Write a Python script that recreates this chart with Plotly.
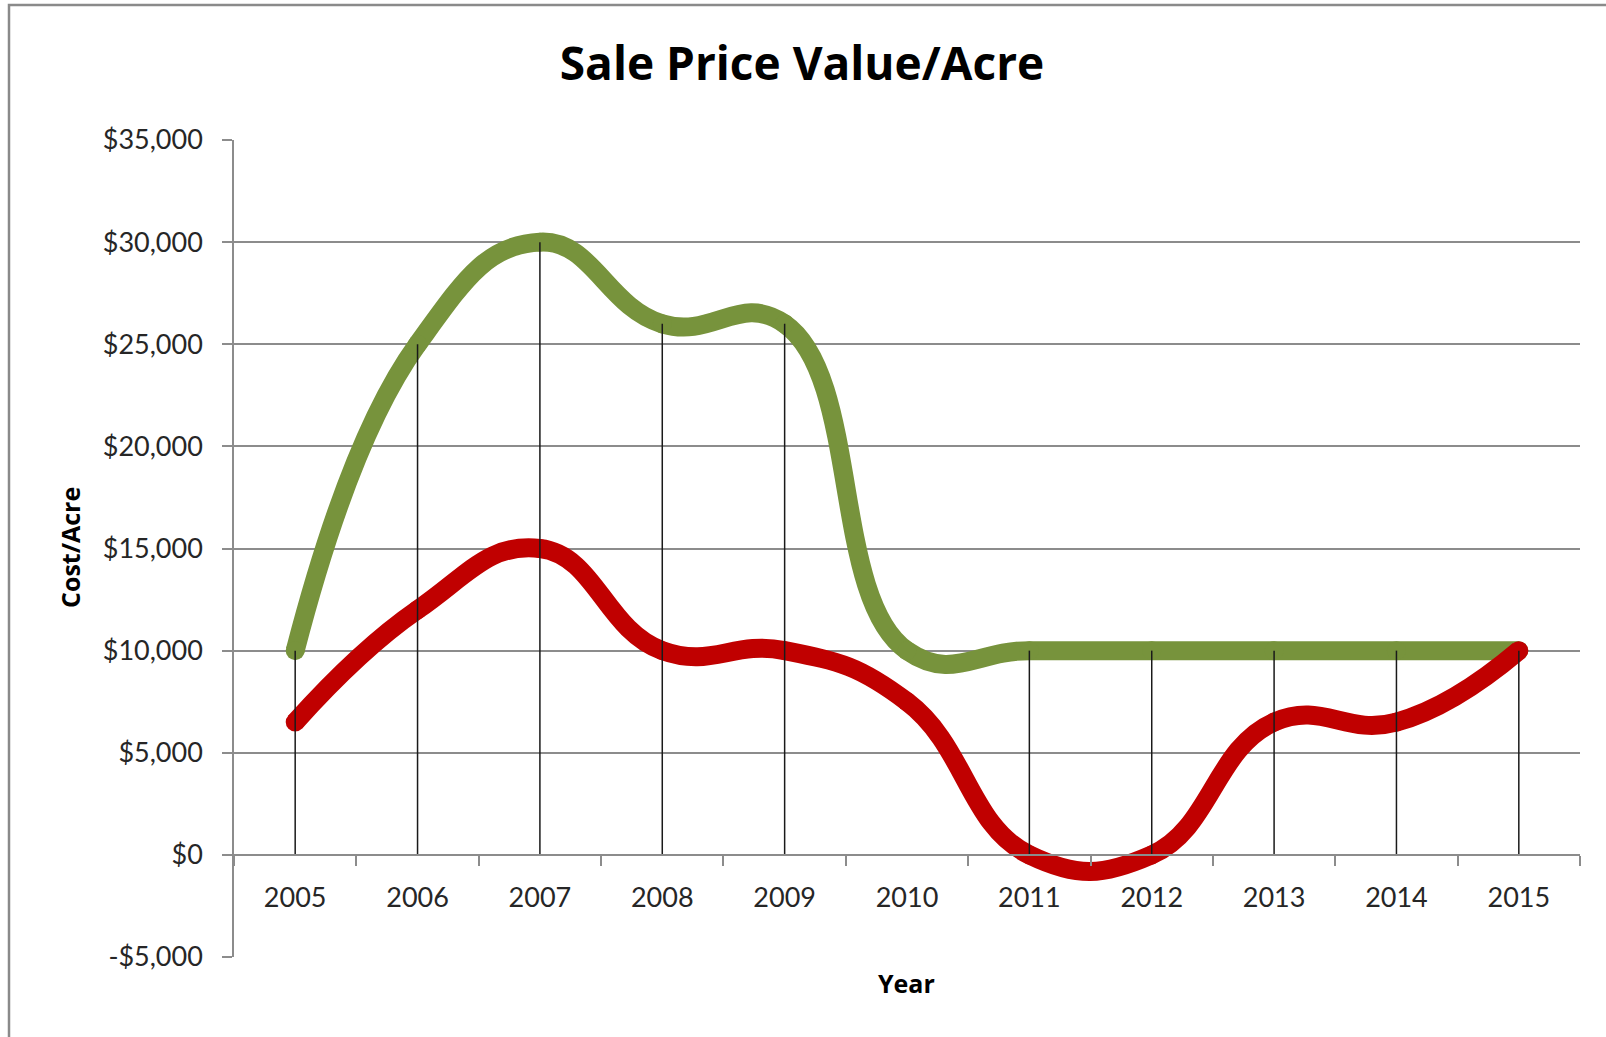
import plotly.graph_objects as go

# ---- data ----
years = ["2005", "2006", "2007", "2008", "2009", "2010",
         "2011", "2012", "2013", "2014", "2015"]
sale_price = [10000, 25000, 30000, 26000, 26000, 10000,
              10000, 10000, 10000, 10000, 10000]
value = [6500, 12000, 15000, 10000, 10000, 7500,
         0, 0, 6500, 6500, 10000]
drop_line_years = ["2005", "2006", "2007", "2008", "2009",
                   "2011", "2012", "2013", "2014", "2015"]
y_tick_vals = [-5000, 0, 5000, 10000, 15000, 20000, 25000, 30000, 35000]
y_tick_text = ["-$5,000", "$0", "$5,000", "$10,000", "$15,000",
               "$20,000", "$25,000", "$30,000", "$35,000"]

# ---- styling / layout constants ----
W, H = 1606, 1037
ML, MR, MT, MB = 234, 26, 140, 80
PW, PH = W - ML - MR, H - MT - MB
FONT = "Lato, 'Open Sans', sans-serif"
TFONT = "'Open Sans', 'Noto Sans', sans-serif"
GREEN = "#77933C"
RED = "#C00000"
GRID = "#8c8c8c"
LW = 19
SMOOTH = 1.3


def px_x(p):
    return (p - ML) / PW


def px_y(p):
    return (H - MB - p) / PH


fig = go.Figure()

fig.add_trace(go.Scatter(
    x=years, y=sale_price, name="Sale Price", mode="lines+markers",
    line=dict(color=GREEN, width=LW, shape="spline", smoothing=SMOOTH),
    marker=dict(color=GREEN, size=LW, line=dict(width=0)),
    hoverinfo="x+y",
))
fig.add_trace(go.Scatter(
    x=years, y=value, name="Value", mode="lines+markers",
    line=dict(color=RED, width=LW, shape="spline", smoothing=SMOOTH),
    marker=dict(color=RED, size=LW, line=dict(width=0)),
    hoverinfo="x+y",
))

# drop lines from the axis up to the higher series value
dx, dy = [], []
for yr in drop_line_years:
    i = years.index(yr)
    top = max(sale_price[i], value[i])
    dx += [yr, yr, None]
    dy += [0, top, None]
fig.add_trace(go.Scatter(
    x=dx, y=dy, mode="lines", line=dict(color="#1a1a1a", width=1.5),
    hoverinfo="skip", showlegend=False,
))

fig.update_layout(
    width=W, height=H,
    margin=dict(l=ML, r=MR, t=MT, b=MB),
    paper_bgcolor="white", plot_bgcolor="white",
    showlegend=False,
    font=dict(family=FONT, color="#262626"),
    title=dict(
        text="<b>Sale Price Value/Acre</b>",
        font=dict(family=TFONT, size=46, color="black"),
        x=802 / W, xref="container", xanchor="center",
        y=1 - 64 / H, yref="container", yanchor="middle",
    ),
    xaxis=dict(
        type="category", categoryorder="array", categoryarray=years,
        range=[-0.5, len(years) - 0.5],
        anchor="free", position=0.125,
        showgrid=False, zeroline=False,
        showline=True, linecolor=GRID, linewidth=1.5,
        ticks="outside", tickson="boundaries", ticklen=10,
        tickcolor=GRID, tickwidth=1.5,
        tickfont=dict(family=FONT, size=27, color="#262626"),
        ticklabelstandoff=19,
    ),
    yaxis=dict(
        range=[-5000, 35000],
        tickvals=y_tick_vals, ticktext=y_tick_text,
        showgrid=True, gridcolor=GRID, gridwidth=1.5,
        zeroline=False,
        showline=True, linecolor=GRID, linewidth=1.5,
        ticks="outside", ticklen=10, tickcolor=GRID, tickwidth=1.5,
        tickfont=dict(family=FONT, size=27, color="#262626"),
        ticklabelstandoff=14,
    ),
    annotations=[
        dict(text="<b>Cost/Acre</b>", textangle=-90,
             x=px_x(70), y=px_y(548), xref="paper", yref="paper",
             xanchor="center", yanchor="middle", showarrow=False,
             font=dict(family=TFONT, size=25, color="black")),
        dict(text="<b>Year</b>",
             x=px_x(906), y=px_y(983), xref="paper", yref="paper",
             xanchor="center", yanchor="middle", showarrow=False,
             font=dict(family=TFONT, size=25, color="black")),
    ],
    shapes=[
        dict(type="rect", xref="paper", yref="paper",
             x0=px_x(9), x1=px_x(W + 20), y0=px_y(H + 20), y1=px_y(5),
             line=dict(color="#8a8a8a", width=2.5), fillcolor="rgba(0,0,0,0)",
             layer="below"),
    ],
)

fig.write_html("out.html",
               config={"displayModeBar": False},
               post_script="document.body.style.margin='0';"
                           "document.body.style.overflow='hidden';")
